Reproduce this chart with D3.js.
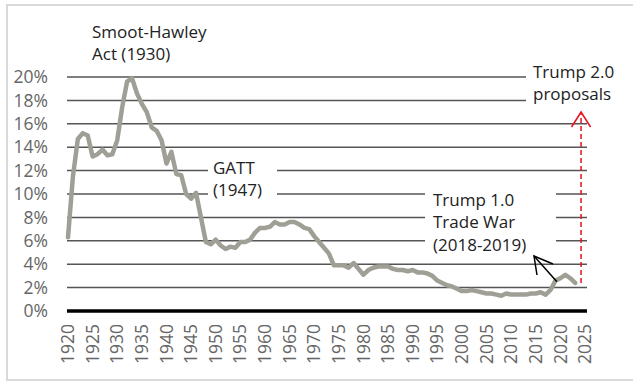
<!DOCTYPE html>
<html lang="en">
<head>
    <meta charset="UTF-8">
    <title>US Average Tariff Rate</title>
    <style>
        body { margin: 0; background: #fff; }
        svg { display: block; font-family: "Open Sans", "Noto Sans", sans-serif; }
    </style>
</head>
<body>
    <div id="chart"></div>
    <script src="https://d3js.org/d3.v7.min.js"></script>
    <script>
        // years 1920..2023 and the average tariff rate (%)
        const years = d3.range(1920, 2024);
        const tariff = [
            6.3, 11.5, 14.7, 15.2, 15.0, 13.2, 13.4, 13.8, 13.3, 13.4,
            14.6, 17.4, 19.6, 19.9, 18.6, 17.7, 17.0, 15.7, 15.4, 14.6,
            12.6, 13.6, 11.7, 11.6, 10.0, 9.6, 10.1, 8.0, 5.9, 5.7,
            6.1, 5.6, 5.3, 5.5, 5.4, 5.9, 5.9, 6.1, 6.7, 7.1,
            7.1, 7.2, 7.6, 7.4, 7.4, 7.6, 7.6, 7.4, 7.1, 7.0,
            6.4, 5.9, 5.4, 4.9, 3.9, 3.9, 3.9, 3.7, 4.1, 3.6,
            3.1, 3.5, 3.7, 3.8, 3.8, 3.8, 3.6, 3.5, 3.5, 3.4,
            3.5, 3.3, 3.3, 3.2, 3.0, 2.6, 2.4, 2.2, 2.1, 1.9,
            1.7, 1.7, 1.8, 1.7, 1.6, 1.5, 1.5, 1.4, 1.3, 1.5,
            1.4, 1.4, 1.4, 1.4, 1.5, 1.5, 1.6, 1.4, 1.8, 2.6,
            2.8, 3.1, 2.8, 2.4
        ];
        const yTicks = d3.range(0, 21, 2);
        const xTicks = d3.range(1920, 2026, 5);

        const W = 633, H = 382;
        const svg = d3.select("#chart").append("svg")
            .attr("width", W).attr("height", H);

        // light frame round the chart
        svg.append("rect")
            .attr("x", 7).attr("y", 5).attr("width", 640).attr("height", 375)
            .attr("fill", "none").attr("stroke", "#d9d9d9").attr("stroke-width", 2);

        const x = d3.scaleLinear().domain([1920, 2025]).range([68, 585]);
        const y = d3.scaleLinear().domain([0, 20]).range([311, 77]);
        const gridX0 = 67, gridX1 = 587;

        // gridlines
        svg.append("g").selectAll("line")
            .data(yTicks.filter(d => d > 0))
            .enter().append("line")
            .attr("x1", gridX0).attr("x2", gridX1)
            .attr("y1", d => y(d)).attr("y2", d => y(d))
            .attr("stroke", "#555").attr("stroke-width", 1.5);

        // y tick labels
        svg.append("g").selectAll("text")
            .data(yTicks)
            .enter().append("text")
            .attr("x", 48).attr("y", d => y(d))
            .attr("dy", "0.35em")
            .attr("text-anchor", "end")
            .attr("font-size", 17.5).attr("fill", "#666")
            .text(d => d + "%");

        // x tick labels, rotated
        svg.append("g").selectAll("text")
            .data(xTicks)
            .enter().append("text")
            .attr("transform", d => `translate(${x(d)},324) rotate(-90)`)
            .attr("dy", "0.35em")
            .attr("text-anchor", "end")
            .attr("font-size", 17.5).attr("fill", "#666")
            .text(d => d);

        // white boxes behind the annotations break the gridlines
        const boxes = [
            {x0: 208, x1: 277, y0: 158, y1: 202},
            {x0: 425, x1: 556, y0: 184, y1: 255},
            {x0: 526, x1: 633, y0: 58, y1: 108}
        ];
        svg.append("g").selectAll("rect")
            .data(boxes)
            .enter().append("rect")
            .attr("x", d => d.x0).attr("y", d => d.y0)
            .attr("width", d => d.x1 - d.x0).attr("height", d => d.y1 - d.y0)
            .attr("fill", "#fff");

        // zero line
        svg.append("line")
            .attr("x1", gridX0).attr("x2", gridX1)
            .attr("y1", y(0)).attr("y2", y(0))
            .attr("stroke", "#000").attr("stroke-width", 3.5);

        // tariff line
        const line = d3.line()
            .x((d, i) => x(years[i]))
            .y(d => y(d));
        svg.append("path")
            .datum(tariff)
            .attr("d", line)
            .attr("fill", "none")
            .attr("stroke", "#a09f96")
            .attr("stroke-width", 4.5)
            .attr("stroke-linejoin", "round")
            .attr("stroke-linecap", "round");

        // annotations
        const notes = [
            {x: 92, y: 32, lines: ["Smoot-Hawley", "Act (1930)"]},
            {x: 213, y: 168, lines: ["GATT", "(1947)"]},
            {x: 433, y: 200, lines: ["Trump 1.0", "Trade War", "(2018-2019)"]},
            {x: 533, y: 72, lines: ["Trump 2.0", "proposals"]}
        ];
        notes.forEach(n => {
            const t = svg.append("text")
                .attr("font-size", 17).attr("fill", "#222");
            n.lines.forEach((s, i) => {
                t.append("tspan")
                    .attr("x", n.x).attr("y", n.y + i * 22.5)
                    .attr("dy", "0.35em")
                    .text(s);
            });
        });

        // black arrow to the Trump 1.0 bump
        const tail1 = [x(2019.3), y(2.5)], tip1 = [534, 256];
        svg.append("line")
            .attr("x1", tail1[0]).attr("y1", tail1[1])
            .attr("x2", tip1[0]).attr("y2", tip1[1])
            .attr("stroke", "#000").attr("stroke-width", 1.5);
        svg.append("polyline")
            .attr("points", [[537, 275], tip1, [553, 264]].map(p => p.join(",")).join(" "))
            .attr("fill", "none").attr("stroke", "#000").attr("stroke-width", 1.5);

        // red dashed arrow for Trump 2.0
        const xr = x(2024.2), tipR = 112;
        svg.append("line")
            .attr("x1", xr).attr("x2", xr)
            .attr("y1", y(2.4)).attr("y2", tipR + 2)
            .attr("stroke", "#e8101a").attr("stroke-width", 1.5)
            .attr("stroke-dasharray", "5,3");
        svg.append("polyline")
            .attr("points", `${xr - 9.5},127 ${xr},${tipR} ${xr + 9.5},127`)
            .attr("fill", "none").attr("stroke", "#e8101a").attr("stroke-width", 1.5);
    </script>
</body>
</html>
